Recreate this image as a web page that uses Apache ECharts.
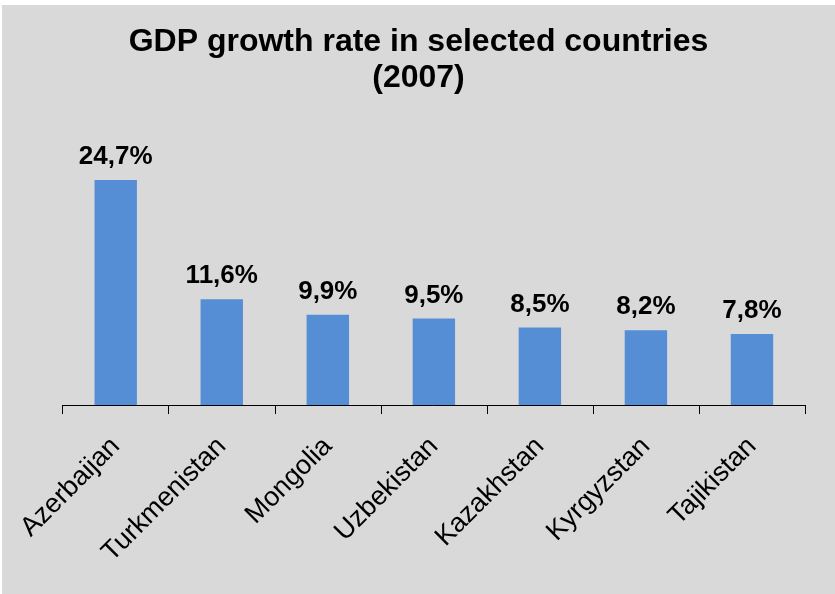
<!DOCTYPE html>
<html>
<head>
<meta charset="utf-8">
<script src="https://cdn.jsdelivr.net/npm/echarts@6/dist/echarts.min.js"></script>
<style>
  html, body { margin: 0; padding: 0; background: #ffffff; }
  #gdpchart {
    position: absolute;
    left: 2px;
    top: 5px;
    width: 833px;
    height: 589px;
    background: #d9d9d9;
  }
</style>
</head>
<body>
<div id="gdpchart"></div>
<script>
// countries and 2007 growth rates (%)
const countries = ["Azerbaijan", "Turkmenistan", "Mongolia", "Uzbekistan", "Kazakhstan", "Kyrgyzstan", "Tajikistan"];
const growth = [24.7, 11.6, 9.9, 9.5, 8.5, 8.2, 7.8];

const myChart = echarts.init(document.getElementById("gdpchart"));
const font = "Liberation Sans, Arial, sans-serif";

const option = {
  animation: false,
  title: {
    text: "GDP growth rate in selected countries\n(2007)",
    left: "center",
    top: 14,
    textStyle: {
      fontFamily: font,
      fontSize: 32,
      fontWeight: "bold",
      color: "#000",
      lineHeight: 36,
    },
  },
  grid: {
    left: 60.7,
    right: 30,
    top: 126.7,
    bottom: 189,
    containLabel: false,
  },
  xAxis: {
    type: "category",
    data: countries,
    axisLine: { lineStyle: { color: "#000", width: 1 } },
    axisTick: { show: true, length: 9, lineStyle: { color: "#000" } },
    axisLabel: {
      rotate: 45,
      interval: 0,
      margin: 37,
      fontFamily: font,
      fontSize: 27,
      color: "#000",
    },
  },
  yAxis: {
    type: "value",
    min: 0,
    max: 30,
    show: false,
  },
  series: [
    {
      type: "bar",
      data: growth,
      barWidth: "40%",
      itemStyle: { color: "#558ed5" },
      label: {
        show: true,
        position: "top",
        distance: 10,
        fontFamily: font,
        fontSize: 26,
        fontWeight: "bold",
        color: "#000",
        formatter: (p) => p.value.toFixed(1).replace(".", ",") + "%",
      },
    },
  ],
};
option && myChart.setOption(option);
</script>
</body>
</html>
